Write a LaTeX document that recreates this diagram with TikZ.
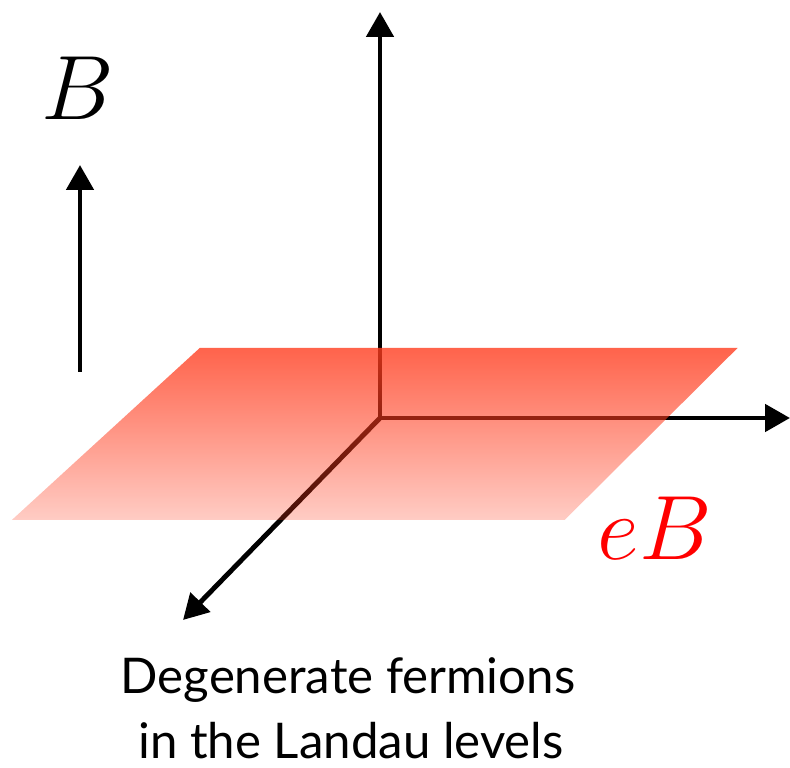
\documentclass[tikz,border=0pt]{standalone}
\usepackage{fontspec}
\newfontfamily\textofont{Lato}
\usetikzlibrary{arrows.meta,fadings}

\definecolor{rojoplano}{RGB}{255,60,30}
\tikzfading[name=planofade, top color=transparent!20, bottom color=transparent!74]

\tikzset{
  eje/.style={line width=2.8pt, -{Triangle[width=0.54cm,length=0.5cm]}},
  etiqueta/.style={anchor=base, font=\Huge, scale=2.09},
  leyenda/.style={anchor=base, font=\textofont\fontsize{28}{35}\selectfont},
}

\begin{document}
\begin{tikzpicture}[x=0.02cm, y=0.02cm]
\useasboundingbox (0,0) rectangle (790,767);

% =============================================
% Ejes
% =============================================
\coordinate (O) at (380,349);
\coordinate (ejeZ) at (380,755);
\coordinate (ejeX) at (790,349);
\coordinate (ejeY) at (183,147);

\draw[eje] (O) -- (ejeZ);
\draw[eje] (O) -- (ejeX);
\draw[eje] (O) -- (ejeY);

% =============================================
% Plano con degradado (encima de los ejes)
% =============================================
\fill[rojoplano, path fading=planofade]
    (200,419) -- (738,419) -- (565,247) -- (12,247) -- cycle;

% =============================================
% Campo B
% =============================================
\coordinate (campoIni) at (80,395);
\coordinate (campoFin) at (80,602);
\draw[eje] (campoIni) -- (campoFin);
\node[etiqueta] (labelB) at (78,647) {$B$};

% Etiqueta del plano
\node[etiqueta, red] (labelEB) at (655,207) {$eB$};

% =============================================
% Texto inferior
% =============================================
\node[leyenda] (texto1) at (348,74) {Degenerate fermions};
\node[leyenda] (texto2) at (351,9) {in the Landau levels};

\end{tikzpicture}
\end{document}
